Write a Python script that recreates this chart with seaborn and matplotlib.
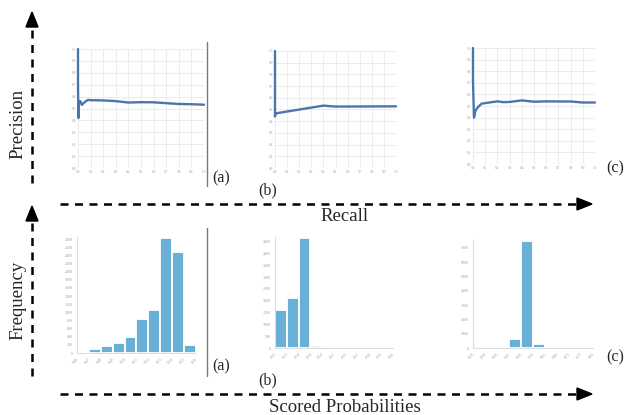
import numpy as np
import matplotlib
matplotlib.use("Agg")
import matplotlib.pyplot as plt
import seaborn as sns

# ---------------- data ----------------
recall_a = [0.0, 0.0, 0.003, 0.006, 0.01, 0.02, 0.03, 0.04, 0.06, 0.08, 0.1, 0.2, 0.3, 0.4, 0.5, 0.6, 0.7, 0.8, 0.9, 1.0]
precision_a = [1.0, 0.70, 0.42, 0.56, 0.55, 0.56, 0.53, 0.54, 0.56, 0.572, 0.57, 0.568, 0.562, 0.55, 0.553, 0.552, 0.545, 0.538, 0.536, 0.532]

recall_b = [0.0, 0.0, 0.003, 0.006, 0.4, 0.5, 1.0]
precision_b = [1.0, 0.44, 0.465, 0.467, 0.533, 0.525, 0.527]

recall_c = [0.0, 0.0, 0.008, 0.02, 0.04, 0.07, 0.1, 0.2, 0.25, 0.3, 0.4, 0.5, 0.6, 0.7, 0.8, 0.9, 1.0]
precision_c = [1.0, 0.71, 0.40, 0.46, 0.49, 0.52, 0.525, 0.54, 0.533, 0.535, 0.548, 0.537, 0.54, 0.539, 0.539, 0.53, 0.53]

edges_a = [0.46, 0.47, 0.48, 0.49, 0.50, 0.51, 0.52, 0.53, 0.54, 0.55, 0.56]
counts_a = [30, 110, 165, 245, 385, 835, 1045, 2815, 2475, 205]
labels_a = ["0.46", "0.47", "0.48", "0.49", "0.50", "0.51", "0.52", "0.53", "0.54", "0.55", "0.56"]

edges_b = [0.520, 0.524, 0.528, 0.532, 0.536, 0.540, 0.544, 0.548, 0.552, 0.556, 0.560]
counts_b = [1620, 2105, 4660, 70, 4, 2, 1, 1, 0, 0]
labels_b = ["0.52", "0.53", "0.54", "0.54", "0.54", "0.55", "0.55", "0.55", "0.56", "0.56", "0.56"]

edges_c = [0.29, 0.344, 0.398, 0.452, 0.506, 0.56, 0.614, 0.668, 0.722, 0.776, 0.83]
counts_c = [0, 5, 40, 615, 7450, 275, 25, 3, 0, 0]
labels_c = ["0.29", "0.34", "0.39", "0.45", "0.50", "0.56", "0.61", "0.66", "0.72", "0.77", "0.83"]

pr_ticks = [0.0, 0.1, 0.2, 0.3, 0.4, 0.5, 0.6, 0.7, 0.8, 0.9, 1.0]
hist_yticks_a = list(range(0, 2801, 200))
hist_yticks_b = list(range(0, 4501, 500))
hist_yticks_c = list(range(0, 7001, 1000))

# ---------------- style ----------------
sns.set_theme(style="white")
plt.rcParams["font.family"] = ["Liberation Serif", "DejaVu Serif"]

W, H = 634, 415
fig = plt.figure(figsize=(W / 100, H / 100), dpi=100)

LINE_COLOR = "#4a76ad"
BAR_COLOR = "#6aafd5"
TICK_COLOR = "#a0a0a0"


def px_axes(x0, y0, x1, y1):
    return fig.add_axes([x0 / W, 1 - y1 / H, (x1 - x0) / W, (y1 - y0) / H])


def pr_panel(rect, rec, prec):
    ax = px_axes(*rect)
    sns.lineplot(x=rec, y=prec, ax=ax, sort=False, estimator=None,
                 color=LINE_COLOR, linewidth=1.7, clip_on=False)
    ax.set_xlim(0, 1)
    ax.set_ylim(0, 1)
    ax.set_xticks(pr_ticks)
    ax.set_yticks(pr_ticks)
    ax.set_xticklabels([f"{t:.1f}" for t in pr_ticks])
    ax.set_yticklabels([f"{t:.1f}" for t in pr_ticks])
    ax.grid(True, color="#e9e9e9", linewidth=0.6)
    for s in ax.spines.values():
        s.set_visible(False)
    ax.tick_params(length=0, labelsize=2.5, labelcolor=TICK_COLOR, pad=1.5)
    ax.set_xlabel("")
    ax.set_ylabel("")
    return ax


def hist_panel(rect, edges, counts, labels, yticks, ytop):
    ax = px_axes(*rect)
    centers = [(edges[i] + edges[i + 1]) / 2 for i in range(len(counts))]
    sns.histplot(x=centers, weights=counts, bins=edges, ax=ax,
                 color=BAR_COLOR, edgecolor="white", linewidth=1.3, alpha=1.0)
    ax.set_xlim(edges[0], edges[-1])
    ax.set_ylim(0, ytop)
    ax.set_xticks(edges)
    ax.set_xticklabels(labels, rotation=45, ha="right", rotation_mode="anchor")
    ax.set_yticks(yticks)
    ax.set_yticklabels([str(t) for t in yticks])
    for side in ("top", "right"):
        ax.spines[side].set_visible(False)
    for side in ("left", "bottom"):
        ax.spines[side].set_color("#dddddd")
        ax.spines[side].set_linewidth(0.8)
    ax.tick_params(length=1.5, width=0.5, color="#dddddd",
                   labelsize=2.9, labelcolor=TICK_COLOR, pad=1.5)
    ax.set_xlabel("")
    ax.set_ylabel("")
    return ax


pr_panel((78, 49, 204, 168), recall_a, precision_a)
pr_panel((275, 51, 396, 168), recall_b, precision_b)
pr_panel((473, 48, 595, 164), recall_c, precision_c)

hist_panel((77, 237, 196, 353), edges_a, counts_a, labels_a, hist_yticks_a, 2850)
hist_panel((275, 237, 393, 348), edges_b, counts_b, labels_b, hist_yticks_b, 4700)
hist_panel((473, 240, 593, 348), edges_c, counts_c, labels_c, hist_yticks_c, 7550)

# ---------------- overlay: arrows, labels ----------------
ov = fig.add_axes([0, 0, 1, 1], facecolor="none")
ov.set_xlim(0, W)
ov.set_ylim(H, 0)
ov.axis("off")

dash = dict(color="black", linewidth=1.8, linestyle=(0, (3.2, 2.6)))

# vertical arrows
ov.plot([32, 32], [183, 28], **dash)
ov.fill([26, 38, 32], [27, 27, 12], color="black")
ov.plot([32, 32], [376, 222], **dash)
ov.fill([26, 38, 32], [221, 221, 206], color="black")

# horizontal arrows
ov.plot([60, 577], [204, 204], **dash)
ov.fill([577, 577, 592], [198, 210, 204], color="black")
ov.plot([60, 577], [394, 394], **dash)
ov.fill([577, 577, 592], [388, 400, 394], color="black")

# separator lines
ov.plot([207, 207], [42, 186], color="#7a7a7a", linewidth=1.0)
ov.plot([207, 207], [228, 376], color="#7a7a7a", linewidth=1.0)

ov.text(18, 124, "Precision", rotation=90, ha="center", va="center", fontsize=13.5)
ov.text(18, 300, "Frequency", rotation=90, ha="center", va="center", fontsize=13.5)
ov.text(345, 216, "Recall", ha="center", va="center", fontsize=13.5)
ov.text(345, 407, "Scored Probabilities", ha="center", va="center", fontsize=13.5)

for (x, y, s) in [(221, 178, "(a)"), (268, 190, "(b)"), (615, 168, "(c)"),
                  (221, 366, "(a)"), (268, 380, "(b)"), (615, 357, "(c)")]:
    ov.text(x, y, s, ha="center", va="center", fontsize=11.5)

fig.savefig("out.png", dpi=100)
